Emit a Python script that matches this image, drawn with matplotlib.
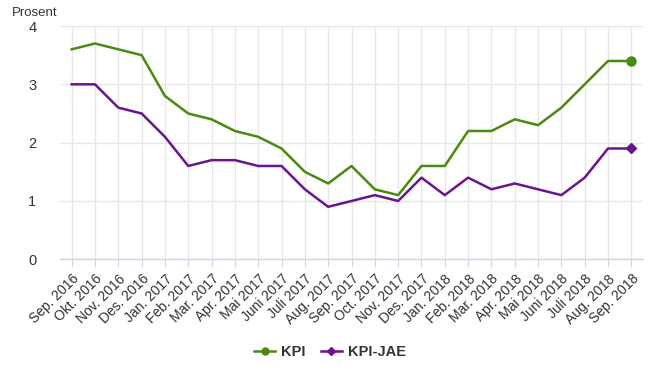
import matplotlib
matplotlib.use("Agg")
import matplotlib.pyplot as plt
from matplotlib.lines import Line2D

plt.rcParams['font.family'] = ['Liberation Sans', 'DejaVu Sans']

months = ["Sep. 2016", "Okt. 2016", "Nov. 2016", "Des. 2016",
          "Jan. 2017", "Feb. 2017", "Mar. 2017", "Apr. 2017", "Mai 2017",
          "Juni 2017", "Juli 2017", "Aug. 2017", "Sep. 2017", "Oct. 2017",
          "Nov. 2017", "Des. 2017", "Jan. 2018", "Feb. 2018", "Mar. 2018",
          "Apr. 2018", "Mai 2018", "Juni 2018", "Juli 2018", "Aug. 2018",
          "Sep. 2018"]
kpi = [3.6, 3.7, 3.6, 3.5, 2.8, 2.5, 2.4, 2.2, 2.1, 1.9, 1.5, 1.3, 1.6,
       1.2, 1.1, 1.6, 1.6, 2.2, 2.2, 2.4, 2.3, 2.6, 3.0, 3.4, 3.4]
kpi_jae = [3.0, 3.0, 2.6, 2.5, 2.1, 1.6, 1.7, 1.7, 1.6, 1.6, 1.2, 0.9, 1.0,
           1.1, 1.0, 1.4, 1.1, 1.4, 1.2, 1.3, 1.2, 1.1, 1.4, 1.9, 1.9]

green = '#4a8a0e'
purple = '#6b1490'
grid_c = '#e6e6ee'
axis_c = '#ccd6eb'
text_c = '#333333'

fig = plt.figure(figsize=(6.54, 3.67), dpi=100)
ax = fig.add_axes([60 / 654, 1 - 259.3 / 367, (643 - 60) / 654, (259.3 - 26) / 367])

x = list(range(len(months)))
ax.plot(x, kpi, color=green, lw=1.8, marker='o', markersize=6.5,
        markevery=[len(x) - 1], zorder=3)
ax.plot(x, kpi_jae, color=purple, lw=1.8, marker='D', markersize=5,
        markevery=[len(x) - 1], zorder=3)

ax.set_xlim(-0.5, len(months) - 0.5)
ax.set_ylim(0, 4)
ax.set_yticks([0, 1, 2, 3, 4])
ax.set_xticks(x)
ax.set_xticklabels(months, rotation=45, ha='right', rotation_mode='anchor')

ax.grid(True, color=grid_c, lw=1)
ax.set_axisbelow(True)
for s in ['top', 'right', 'left']:
    ax.spines[s].set_visible(False)
ax.spines['bottom'].set_color(axis_c)
ax.spines['bottom'].set_linewidth(1)

ax.tick_params(axis='y', length=0, pad=17, labelsize=10.5, labelcolor=text_c)
ax.tick_params(axis='x', length=6, color=axis_c, pad=3, labelsize=10,
               labelcolor=text_c)

fig.text(12 / 654, 1 - 13 / 367, "Prosent", fontsize=9.5, color=text_c,
         va='center', ha='left')

handles = [Line2D([0], [0], color=green, lw=1.8, marker='o', markersize=5),
           Line2D([0], [0], color=purple, lw=1.8, marker='D', markersize=4)]
leg = fig.legend(handles, ["KPI", "KPI-JAE"], loc='center',
                 bbox_to_anchor=(330 / 654, 1 - 352 / 367), ncol=2,
                 frameon=False, handlelength=1.4, columnspacing=1.1,
                 handletextpad=0.4, prop={'weight': 'bold', 'size': 10.5})
for t in leg.get_texts():
    t.set_color(text_c)

fig.savefig("out.png", dpi=100)
